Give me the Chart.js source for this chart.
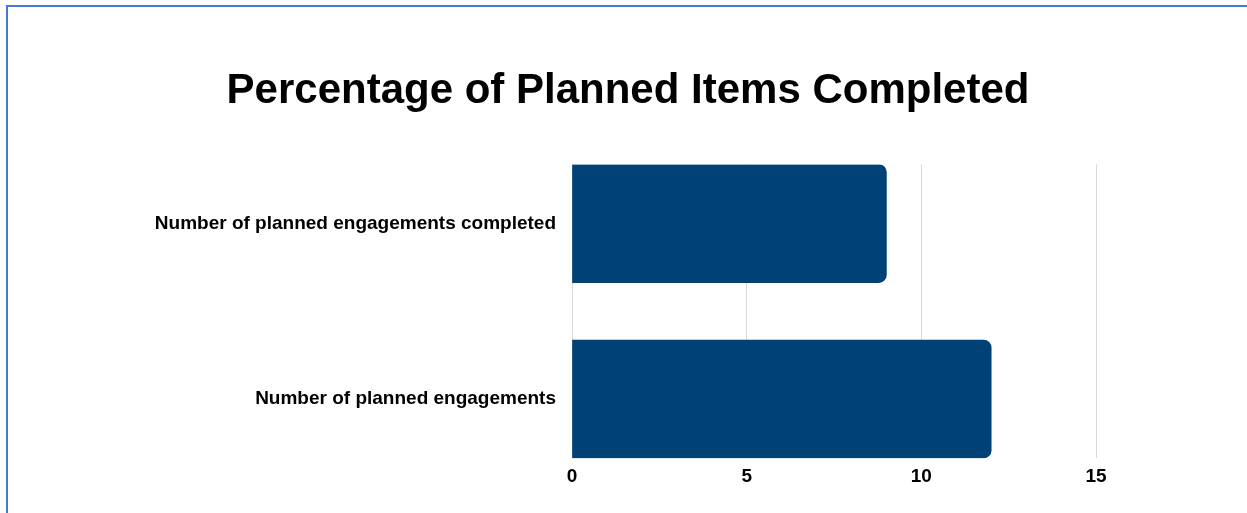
<!DOCTYPE html>
<html>
<head>
<meta charset="utf-8">
<script src="https://cdn.jsdelivr.net/npm/chart.js@4"></script>
<style>
  body { margin: 0; background: #fff; overflow: hidden; }
  #frame { position: absolute; left: 6px; top: 5px; width: 1300px; height: 600px;
           border-top: 2px solid #4a78cc; border-left: 2px solid #4a78cc; }
  #wrap { position: absolute; left: 0; top: 0; width: 1247px; height: 513px; }
</style>
</head>
<body>
<div id="frame"></div>
<div id="wrap"><canvas id="chart"></canvas></div>
<script>
const categories = ['Number of planned engagements completed', 'Number of planned engagements']
const values = [9, 12]
const xTicks = [0, 5, 10, 15]
const chartTitle = 'Percentage of Planned Items Completed'

const font = 'Liberation Sans, Arial, sans-serif'

new Chart(document.getElementById('chart'), {
    type: 'bar',
    data: {
        datasets: [{
            data: categories.map((c, i) => ({ y: i, x: values[i] })),
            backgroundColor: '#004276',
            borderRadius: 8,
            barThickness: 118,
        }]
    },
    options: {
        indexAxis: 'y',
        responsive: true,
        maintainAspectRatio: false,
        animation: false,
        layout: { padding: { left: 9, bottom: 18 } },
        plugins: {
            legend: { display: false },
            tooltip: { enabled: false },
            title: {
                display: true,
                text: chartTitle,
                color: '#000',
                font: { family: font, size: 42, weight: 'bold' },
                padding: { top: 66, bottom: 48 },
            }
        },
        scales: {
            x: {
                type: 'linear',
                min: xTicks[0],
                max: xTicks[xTicks.length - 1],
                afterBuildTicks: (axis) => { axis.ticks = xTicks.map(v => ({ value: v })) },
                grid: { color: '#d9d9d9', drawTicks: false },
                border: { display: false },
                ticks: { color: '#000', padding: 7, font: { family: font, size: 19, weight: 'bold' } },
            },
            y: {
                type: 'linear',
                offset: false,
                reverse: true,
                min: -0.337,
                max: categories.length - 1 + 0.337,
                afterBuildTicks: (axis) => { axis.ticks = categories.map((c, i) => ({ value: i })) },
                afterFit: (axis) => { axis.width = 563 },
                grid: { display: false },
                border: { display: false },
                ticks: {
                    color: '#000',
                    padding: 8,
                    font: { family: font, size: 19, weight: 'bold' },
                    callback: (v) => categories[v],
                },
            },
            // empty right-hand axis, only keeps space right of the plot
            yRight: {
                type: 'linear',
                position: 'right',
                afterFit: (axis) => { axis.width = 151 },
                grid: { display: false },
                border: { display: false },
                ticks: { display: false },
            }
        }
    }
})
</script>
</body>
</html>
